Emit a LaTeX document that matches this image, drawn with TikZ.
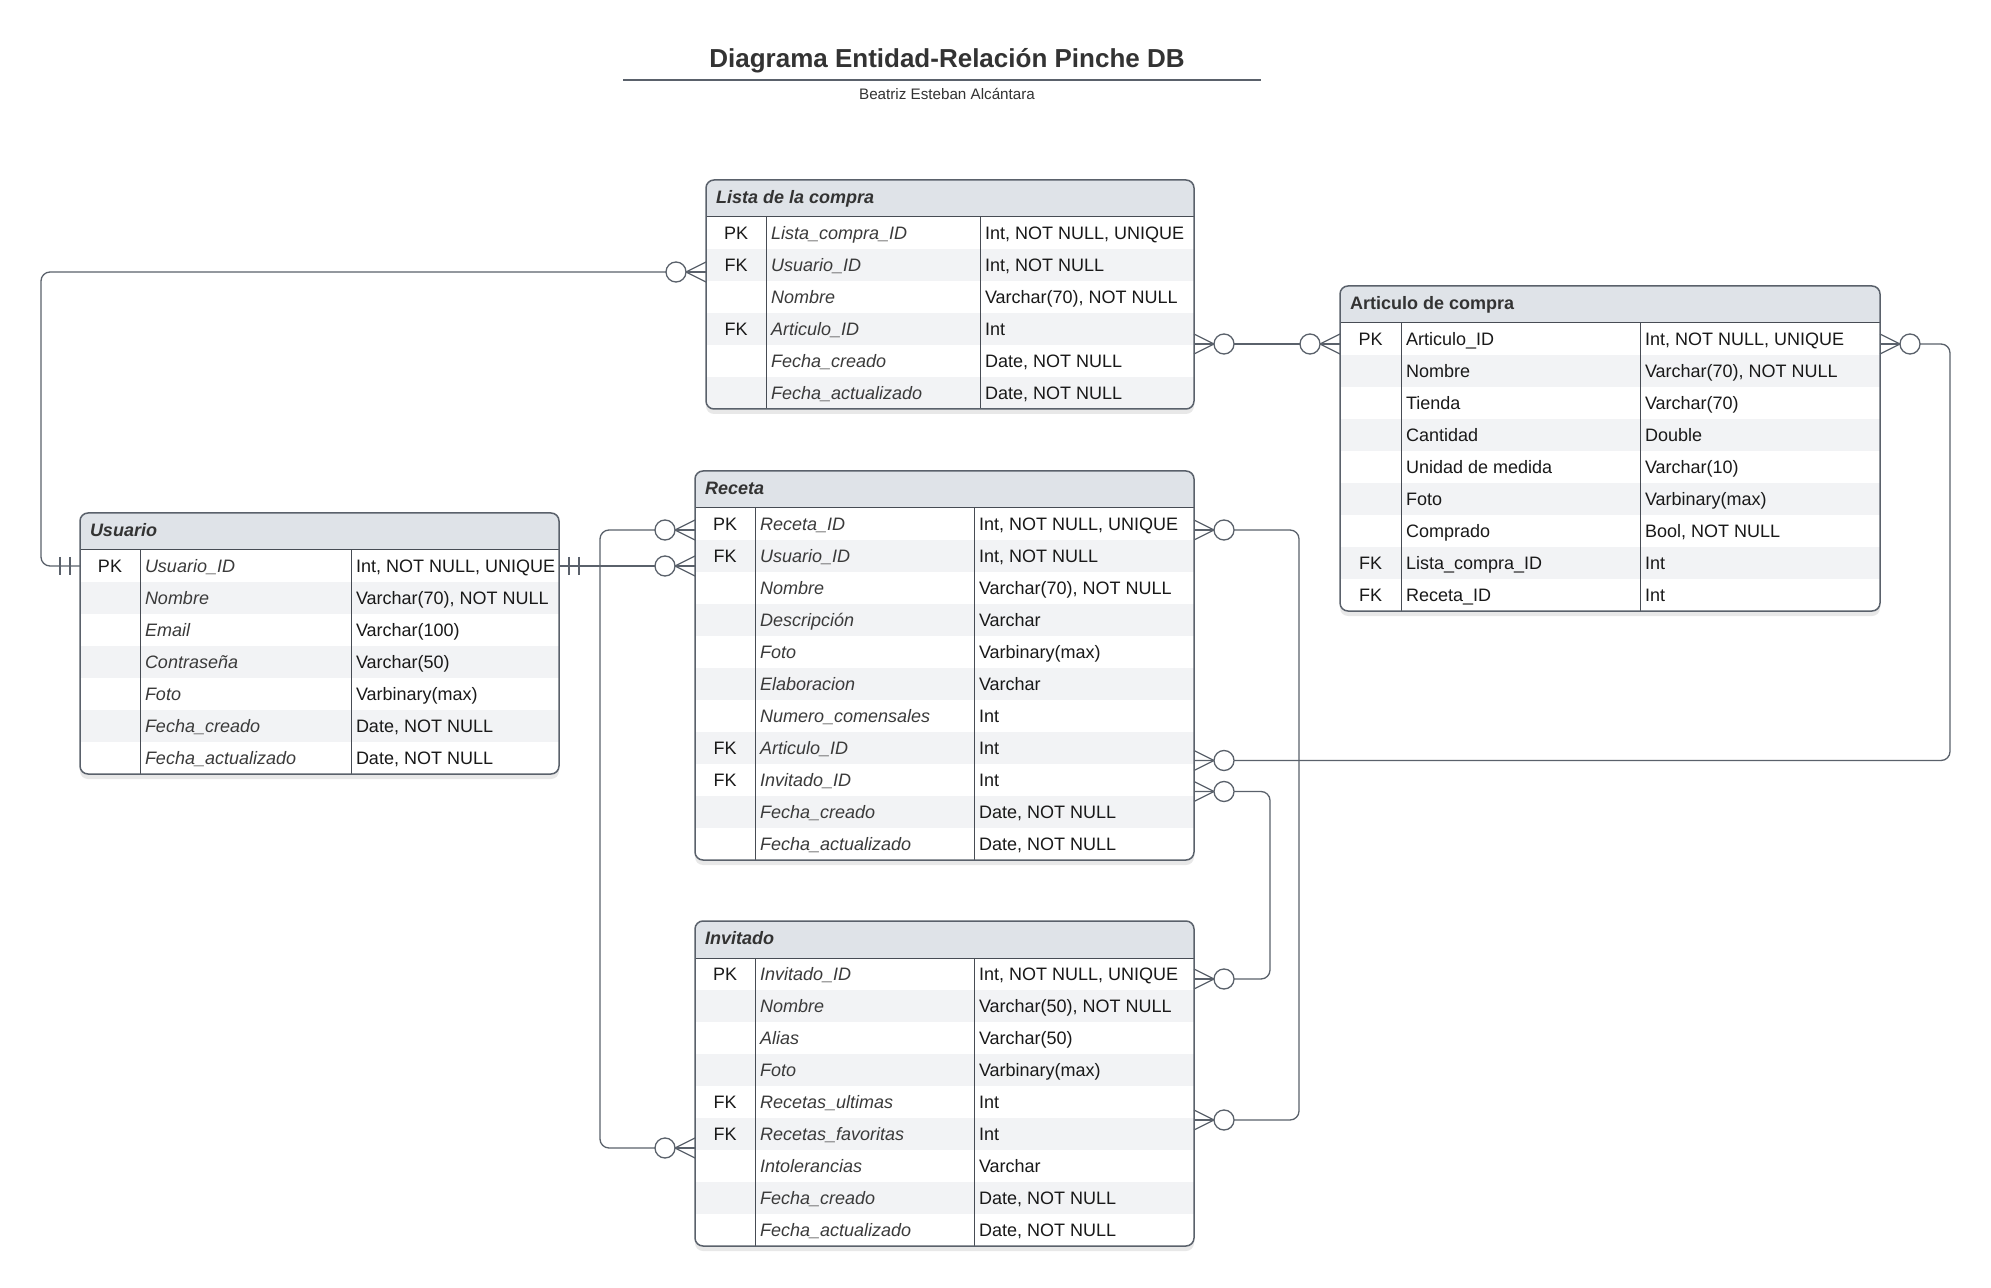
\documentclass[tikz,border=0pt]{standalone}
\usepackage{fontspec}
\setmainfont{Liberation Sans}
\usepackage{tikz}
\usetikzlibrary{positioning,shadows}
\definecolor{headGrey}{HTML}{DFE3E8}
\definecolor{rowGrey}{HTML}{F2F3F5}
\definecolor{lineGrey}{HTML}{5A616B}
\definecolor{ruleDark}{HTML}{474C54}
\definecolor{textDark}{HTML}{333333}
\definecolor{fieldGrey}{HTML}{3A3A3A}
\newlength{\keyW}
\newlength{\fieldW}
\newlength{\typeW}
\newcommand{\erFont}{\fontsize{9pt}{11pt}\selectfont}
\tikzset{TableHead/.style={%
    fill=headGrey,%
    text=textDark,%
    inner sep=0pt,%
    outer sep=0pt,%
    minimum height=18.5pt,%
    text height=7pt,%
    text depth=2pt,%
    anchor=north west,%
    font=\erFont,%
}}
\tikzset{RowPlain/.style={%
    fill=white,%
    text=black!90,%
    inner sep=0pt,%
    outer sep=0pt,%
    minimum height=16pt,%
    text height=8.2pt,%
    text depth=1.5pt,%
    font=\erFont,%
}}
\tikzset{RowShade/.style={%
    RowPlain,%
    fill=rowGrey,%
}}
\tikzset{TableBack/.style={%
    fill=white,%
    rounded corners=4pt,%
    drop shadow={opacity=0.18, shadow xshift=0pt, shadow yshift=-2.5pt},%
}}
\tikzset{TableFrame/.style={%
    draw=lineGrey,%
    line width=0.75pt,%
    rounded corners=4pt,%
}}
\tikzset{TableRule/.style={%
    draw=ruleDark,%
    line width=0.5pt,%
}}
\tikzset{ErLine/.style={%
    draw=lineGrey,%
    line width=0.65pt,%
}}
\NewDocumentCommand{\erHead}{s m}{%
    \makebox[\dimexpr\keyW+\fieldW+\typeW\relax][l]{\hspace{5pt}\bfseries\IfBooleanTF{#1}{#2}{\itshape #2}}%
}
\NewDocumentCommand{\erRow}{s m m m}{%
    \makebox[\keyW]{#2}%
    \makebox[\fieldW][l]{\hspace{2.5pt}\IfBooleanTF{#1}{#3}{\color{fieldGrey}\itshape #3}}%
    \makebox[\typeW][l]{\hspace{2.5pt}#4}%
}
\NewDocumentCommand{\erFrame}{m m}{%
    \draw[TableRule] (#1.south west) -- (#1.south east);%
    \draw[TableRule] ([xshift=\keyW]#1.south west) -- ([xshift=\keyW]#2.south west);%
    \draw[TableRule] ([xshift=\keyW+\fieldW]#1.south west) -- ([xshift=\keyW+\fieldW]#2.south west);%
    \draw[TableFrame] (#1.north west) rectangle (#2.south east);%
}
\NewDocumentCommand{\manyEnd}{m m}{%
    \draw[ErLine] ([yshift=5pt]#1) -- ([xshift=#2*10pt]#1) -- ([yshift=-5pt]#1);%
    \draw[ErLine] (#1) -- ([xshift=#2*10pt]#1);%
    \draw[ErLine, fill=white] ([xshift=#2*15pt]#1) circle[radius=5pt];%
}
\NewDocumentCommand{\oneEnd}{m m}{%
    \draw[ErLine] ([xshift=#2*5pt, yshift=4.5pt]#1) -- ([xshift=#2*5pt, yshift=-4.5pt]#1);%
    \draw[ErLine] ([xshift=#2*10pt, yshift=4.5pt]#1) -- ([xshift=#2*10pt, yshift=-4.5pt]#1);%
}
\begin{document}
\begin{tikzpicture}[x=0.5pt, y=-0.5pt]
    \path[fill=white] (0,0) rectangle (1991,1288);

    \node[text=textDark, font=\fontsize{13pt}{15pt}\selectfont\bfseries] (title) at (947,61) {Diagrama Entidad-Relación Pinche DB};
    \node[text=textDark, font=\fontsize{7.6pt}{9pt}\selectfont] (author) at (947,94) {Beatriz Esteban Alcántara};
    \draw[ErLine] (623,80) -- (1261,80);

    % Lista de la compra
    \setlength{\keyW}{30pt}\setlength{\fieldW}{107pt}\setlength{\typeW}{107pt}
    \path[TableBack] (706,180) rectangle ++(488,229);
    \begin{scope}
        \clip[rounded corners=4pt] (706,180) rectangle ++(488,229);
        \node[TableHead] (lcH) at (706,180) {\erHead{Lista de la compra}};
        \node[RowPlain, below=0pt of lcH] (lc1) {\erRow{PK}{Lista\_compra\_ID}{Int, NOT NULL, UNIQUE}};
        \node[RowShade, below=0pt of lc1] (lc2) {\erRow{FK}{Usuario\_ID}{Int, NOT NULL}};
        \node[RowPlain, below=0pt of lc2] (lc3) {\erRow{}{Nombre}{Varchar(70), NOT NULL}};
        \node[RowShade, below=0pt of lc3] (lc4) {\erRow{FK}{Articulo\_ID}{Int}};
        \node[RowPlain, below=0pt of lc4] (lc5) {\erRow{}{Fecha\_creado}{Date, NOT NULL}};
        \node[RowShade, below=0pt of lc5] (lc6) {\erRow{}{Fecha\_actualizado}{Date, NOT NULL}};
    \end{scope}
    \erFrame{lcH}{lc6}

    % Articulo de compra
    \setlength{\keyW}{30.5pt}\setlength{\fieldW}{119.5pt}\setlength{\typeW}{120pt}
    \path[TableBack] (1340,286) rectangle ++(540,325);
    \begin{scope}
        \clip[rounded corners=4pt] (1340,286) rectangle ++(540,325);
        \node[TableHead] (acH) at (1340,286) {\erHead*{Articulo de compra}};
        \node[RowPlain, below=0pt of acH] (ac1) {\erRow*{PK}{Articulo\_ID}{Int, NOT NULL, UNIQUE}};
        \node[RowShade, below=0pt of ac1] (ac2) {\erRow*{}{Nombre}{Varchar(70), NOT NULL}};
        \node[RowPlain, below=0pt of ac2] (ac3) {\erRow*{}{Tienda}{Varchar(70)}};
        \node[RowShade, below=0pt of ac3] (ac4) {\erRow*{}{Cantidad}{Double}};
        \node[RowPlain, below=0pt of ac4] (ac5) {\erRow*{}{Unidad de medida}{Varchar(10)}};
        \node[RowShade, below=0pt of ac5] (ac6) {\erRow*{}{Foto}{Varbinary(max)}};
        \node[RowPlain, below=0pt of ac6] (ac7) {\erRow*{}{Comprado}{Bool, NOT NULL}};
        \node[RowShade, below=0pt of ac7] (ac8) {\erRow*{FK}{Lista\_compra\_ID}{Int}};
        \node[RowPlain, below=0pt of ac8] (ac9) {\erRow*{FK}{Receta\_ID}{Int}};
    \end{scope}
    \erFrame{acH}{ac9}

    % Usuario
    \setlength{\keyW}{30pt}\setlength{\fieldW}{105.5pt}\setlength{\typeW}{104pt}
    \path[TableBack] (80,513) rectangle ++(479,261);
    \begin{scope}
        \clip[rounded corners=4pt] (80,513) rectangle ++(479,261);
        \node[TableHead] (usH) at (80,513) {\erHead{Usuario}};
        \node[RowPlain, below=0pt of usH] (us1) {\erRow{PK}{Usuario\_ID}{Int, NOT NULL, UNIQUE}};
        \node[RowShade, below=0pt of us1] (us2) {\erRow{}{Nombre}{Varchar(70), NOT NULL}};
        \node[RowPlain, below=0pt of us2] (us3) {\erRow{}{Email}{Varchar(100)}};
        \node[RowShade, below=0pt of us3] (us4) {\erRow{}{Contraseña}{Varchar(50)}};
        \node[RowPlain, below=0pt of us4] (us5) {\erRow{}{Foto}{Varbinary(max)}};
        \node[RowShade, below=0pt of us5] (us6) {\erRow{}{Fecha\_creado}{Date, NOT NULL}};
        \node[RowPlain, below=0pt of us6] (us7) {\erRow{}{Fecha\_actualizado}{Date, NOT NULL}};
    \end{scope}
    \erFrame{usH}{us7}

    % Receta
    \setlength{\keyW}{30pt}\setlength{\fieldW}{109.5pt}\setlength{\typeW}{110pt}
    \path[TableBack] (695,471) rectangle ++(499,389);
    \begin{scope}
        \clip[rounded corners=4pt] (695,471) rectangle ++(499,389);
        \node[TableHead] (reH) at (695,471) {\erHead{Receta}};
        \node[RowPlain, below=0pt of reH] (re1) {\erRow{PK}{Receta\_ID}{Int, NOT NULL, UNIQUE}};
        \node[RowShade, below=0pt of re1] (re2) {\erRow{FK}{Usuario\_ID}{Int, NOT NULL}};
        \node[RowPlain, below=0pt of re2] (re3) {\erRow{}{Nombre}{Varchar(70), NOT NULL}};
        \node[RowShade, below=0pt of re3] (re4) {\erRow{}{Descripción}{Varchar}};
        \node[RowPlain, below=0pt of re4] (re5) {\erRow{}{Foto}{Varbinary(max)}};
        \node[RowShade, below=0pt of re5] (re6) {\erRow{}{Elaboracion}{Varchar}};
        \node[RowPlain, below=0pt of re6] (re7) {\erRow{}{Numero\_comensales}{Int}};
        \node[RowShade, below=0pt of re7] (re8) {\erRow{FK}{Articulo\_ID}{Int}};
        \node[RowPlain, below=0pt of re8] (re9) {\erRow{FK}{Invitado\_ID}{Int}};
        \node[RowShade, below=0pt of re9] (re10) {\erRow{}{Fecha\_creado}{Date, NOT NULL}};
        \node[RowPlain, below=0pt of re10] (re11) {\erRow{}{Fecha\_actualizado}{Date, NOT NULL}};
    \end{scope}
    \erFrame{reH}{re11}

    % Invitado
    \path[TableBack] (695,921) rectangle ++(499,325);
    \begin{scope}
        \clip[rounded corners=4pt] (695,921) rectangle ++(499,325);
        \node[TableHead] (invH) at (695,921) {\erHead{Invitado}};
        \node[RowPlain, below=0pt of invH] (inv1) {\erRow{PK}{Invitado\_ID}{Int, NOT NULL, UNIQUE}};
        \node[RowShade, below=0pt of inv1] (inv2) {\erRow{}{Nombre}{Varchar(50), NOT NULL}};
        \node[RowPlain, below=0pt of inv2] (inv3) {\erRow{}{Alias}{Varchar(50)}};
        \node[RowShade, below=0pt of inv3] (inv4) {\erRow{}{Foto}{Varbinary(max)}};
        \node[RowPlain, below=0pt of inv4] (inv5) {\erRow{FK}{Recetas\_ultimas}{Int}};
        \node[RowShade, below=0pt of inv5] (inv6) {\erRow{FK}{Recetas\_favoritas}{Int}};
        \node[RowPlain, below=0pt of inv6] (inv7) {\erRow{}{Intolerancias}{Varchar}};
        \node[RowShade, below=0pt of inv7] (inv8) {\erRow{}{Fecha\_creado}{Date, NOT NULL}};
        \node[RowPlain, below=0pt of inv8] (inv9) {\erRow{}{Fecha\_actualizado}{Date, NOT NULL}};
    \end{scope}
    \erFrame{invH}{inv9}

    % relaciones
    \coordinate (lcUsr) at ([yshift=-3.5pt]lc2.west);
    \coordinate (lcArt) at ([yshift=-7.5pt]lc4.east);
    \coordinate (acLst) at ([yshift=-2.5pt]ac1.west);
    \coordinate (acRec) at ([yshift=-2.5pt]ac1.east);
    \coordinate (reUsr) at ([yshift=-5pt]re2.west);
    \coordinate (reRecL) at ([yshift=-3pt]re1.west);
    \coordinate (reRecR) at ([yshift=-3pt]re1.east);
    \coordinate (reArt) at ([yshift=-6.25pt]re8.east);
    \coordinate (reInv) at ([yshift=-5.75pt]re9.east);
    \coordinate (invId) at ([yshift=-2.5pt]inv1.east);
    \coordinate (invUlt) at ([yshift=-9pt]inv5.east);
    \coordinate (invFav) at ([yshift=-7pt]inv6.west);

    \draw[ErLine, rounded corners=4.5pt] (us1.west) -- ++(-39,0) |- (lcUsr);
    \path (us1.east) edge[ErLine] (reUsr);
    \path (lcArt) edge[ErLine] (acLst);
    \draw[ErLine, rounded corners=4.5pt] (reRecL) -- ++(-95,0) |- (invFav);
    \draw[ErLine, rounded corners=4.5pt] (acRec) -- ++(70,0) |- (reArt);
    \draw[ErLine, rounded corners=4.5pt] (reInv) -- ++(76,0) |- (invId);
    \draw[ErLine, rounded corners=4.5pt] (reRecR) -- ++(105,0) |- (invUlt);

    \oneEnd{us1.west}{-1}
    \oneEnd{us1.east}{1}
    \manyEnd{lcUsr}{-1}
    \manyEnd{reUsr}{-1}
    \manyEnd{lcArt}{1}
    \manyEnd{acLst}{-1}
    \manyEnd{acRec}{1}
    \manyEnd{reArt}{1}
    \manyEnd{reRecL}{-1}
    \manyEnd{invFav}{-1}
    \manyEnd{reInv}{1}
    \manyEnd{invId}{1}
    \manyEnd{reRecR}{1}
    \manyEnd{invUlt}{1}
\end{tikzpicture}
\end{document}
